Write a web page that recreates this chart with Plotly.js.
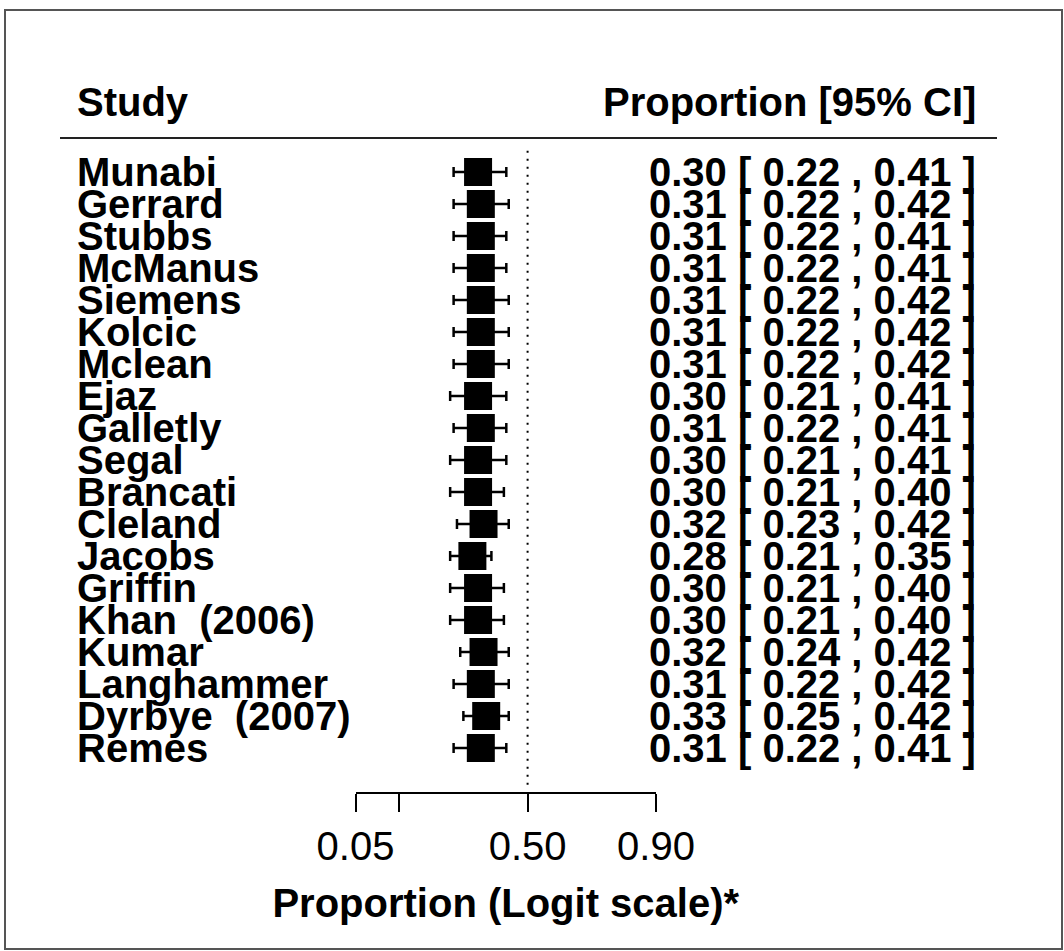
<!DOCTYPE html>
<html>
<head>
<meta charset="utf-8">
<script src="https://cdn.plot.ly/plotly-3.0.1.min.js"></script>
<style>
  html, body { margin: 0; padding: 0; background: #ffffff; }
  #chart { width: 1064px; height: 951px; }
</style>
</head>
<body>
<div id="chart"></div>
<script>
// ---- data ----
const studies = ["Munabi", "Gerrard", "Stubbs", "McManus", "Siemens", "Kolcic", "Mclean", "Ejaz",
  "Galletly", "Segal", "Brancati", "Cleland", "Jacobs", "Griffin", "Khan\u00a0 (2006)", "Kumar",
  "Langhammer", "Dyrbye\u00a0 (2007)", "Remes"];
const estimate = [0.30, 0.31, 0.31, 0.31, 0.31, 0.31, 0.31, 0.30, 0.31, 0.30, 0.30, 0.32, 0.28, 0.30, 0.30, 0.32, 0.31, 0.33, 0.31];
const ciLower  = [0.22, 0.22, 0.22, 0.22, 0.22, 0.22, 0.22, 0.21, 0.22, 0.21, 0.21, 0.23, 0.21, 0.21, 0.21, 0.24, 0.22, 0.25, 0.22];
const ciUpper  = [0.41, 0.42, 0.41, 0.41, 0.42, 0.42, 0.42, 0.41, 0.41, 0.41, 0.40, 0.42, 0.35, 0.40, 0.40, 0.42, 0.42, 0.42, 0.41];
const tickValues = [0.05, 0.10, 0.50, 0.90];
const tickLabels = ["0.05", "", "0.50", "0.90"];
const refValue = 0.50;
const headerLeft = "Study";
const headerRight = "Proportion [95% CI]";
const xTitle = "Proportion (Logit scale)*";

// ---- helpers ----
const logit = p => Math.log(p / (1 - p));
const W = 1064, H = 951;
const px = x => x / W;          // paper x from pixel
const py = y => 1 - y / H;      // paper y from pixel

const n = studies.length;
const rowY = studies.map((_, i) => n - i);   // top row = n
const xs = estimate.map(logit);
const errPlus = estimate.map((e, i) => logit(ciUpper[i]) - logit(e));
const errMinus = estimate.map((e, i) => logit(e) - logit(ciLower[i]));

const FONT = "Liberation Sans, Arial, Helvetica, sans-serif";
const boldFont = { family: FONT, size: 40, color: "#000000", weight: "bold" };

const traces = [{
  type: "scatter",
  mode: "markers",
  x: xs,
  y: rowY,
  marker: { symbol: "square", size: 28, color: "#000000", line: { width: 0 } },
  error_x: {
    type: "data", symmetric: false, array: errPlus, arrayminus: errMinus,
    color: "#000000", thickness: 2.5, width: 5
  },
  cliponaxis: false,
  hoverinfo: "skip",
  showlegend: false
}];

const annotations = [];
studies.forEach((s, i) => {
  annotations.push({
    text: s, xref: "paper", x: px(77), yref: "y", y: rowY[i],
    xanchor: "left", yanchor: "middle", showarrow: false,
    font: boldFont, borderpad: 0, borderwidth: 0
  });
  const ci = estimate[i].toFixed(2) + " [ " + ciLower[i].toFixed(2) + " , " + ciUpper[i].toFixed(2) + " ]";
  annotations.push({
    text: ci, xref: "paper", x: px(976), yref: "y", y: rowY[i],
    xanchor: "right", yanchor: "middle", showarrow: false,
    font: boldFont, borderpad: 0, borderwidth: 0
  });
});
annotations.push({
  text: headerLeft, xref: "paper", x: px(77), yref: "paper", y: py(102),
  xanchor: "left", yanchor: "middle", showarrow: false, font: boldFont, borderpad: 0, borderwidth: 0
});
annotations.push({
  text: headerRight, xref: "paper", x: px(976), yref: "paper", y: py(102),
  xanchor: "right", yanchor: "middle", showarrow: false, font: boldFont, borderpad: 0, borderwidth: 0
});

const yLow = 1 - (792 - 748) / 32;    // row 1 at pixel 748, 32 px per row
const yHigh = n + (172 - 138) / 32;   // row n at pixel 172

const layout = {
  width: W, height: H,
  margin: { l: 0, r: 0, t: 0, b: 0, pad: 0 },
  paper_bgcolor: "#ffffff", plot_bgcolor: "#ffffff",
  showlegend: false,
  xaxis: {
    domain: [px(355.5), px(656)],
    range: [logit(0.05), logit(0.90)],
    tickvals: tickValues.map(logit),
    ticktext: tickLabels,
    ticks: "outside", ticklen: 18, tickwidth: 2, tickcolor: "#000000",
    showline: true, linewidth: 2, linecolor: "#000000",
    showgrid: false, zeroline: false,
    tickfont: { family: FONT, size: 40, color: "#000000" },
    title: { text: xTitle, font: boldFont, standoff: 22 },
    fixedrange: true
  },
  yaxis: {
    domain: [py(792), py(138)],
    range: [yLow, yHigh],
    visible: false, showgrid: false, zeroline: false, fixedrange: true
  },
  shapes: [
    { type: "rect", xref: "paper", yref: "paper", x0: px(5), x1: px(1062), y0: py(949), y1: py(10),
      line: { color: "#555555", width: 2 }, fillcolor: "rgba(0,0,0,0)" },
    { type: "line", xref: "paper", yref: "paper", x0: px(60), x1: px(997), y0: py(138), y1: py(138),
      line: { color: "#222222", width: 2 } },
    { type: "line", xref: "x", yref: "y", x0: logit(refValue), x1: logit(refValue), y0: -0.15, y1: n + 0.8,
      line: { color: "#000000", width: 2, dash: "2px,6px" } }
  ],
  annotations: annotations
};

Plotly.newPlot("chart", traces, layout, { displayModeBar: false, staticPlot: true });
</script>
</body>
</html>
